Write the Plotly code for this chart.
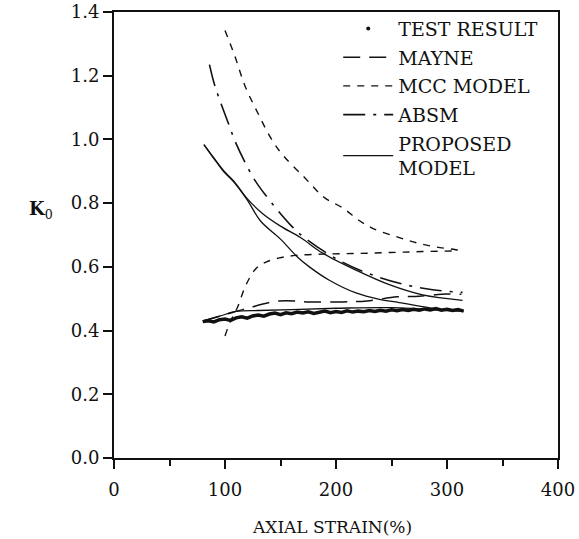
import plotly.graph_objects as go

# ---------------- data ----------------
test_x = list(range(80, 320, 5))
test_y = [0.428, 0.431, 0.427, 0.434, 0.436, 0.432, 0.440, 0.443, 0.439, 0.446,
          0.449, 0.445, 0.452, 0.455, 0.450, 0.456, 0.453, 0.458, 0.455, 0.459,
          0.454, 0.458, 0.461, 0.456, 0.460, 0.457, 0.462, 0.458, 0.461, 0.459,
          0.463, 0.460, 0.464, 0.461, 0.465, 0.462, 0.466, 0.463, 0.467, 0.464,
          0.468, 0.465, 0.469, 0.464, 0.467, 0.463, 0.466, 0.461]

test_unload_x = [81, 90, 99, 108, 120, 134, 150, 168, 188, 219, 248, 278, 314]
test_unload_y = [0.984, 0.942, 0.901, 0.869, 0.814, 0.767, 0.728, 0.692, 0.643,
                 0.588, 0.544, 0.512, 0.495]

mayne_x = [80, 100, 120, 149, 176, 206, 228, 255, 275, 300, 313]
mayne_y = [0.430, 0.450, 0.470, 0.493, 0.490, 0.490, 0.493, 0.506, 0.508, 0.515, 0.514]

mcc_x = [100, 105, 111, 119, 128, 137, 149, 164, 188, 219, 249, 278, 310,
         291, 273, 255, 233, 219, 207, 189, 171, 153, 142, 130, 118, 109, 100]
mcc_y = [0.383, 0.430, 0.471, 0.544, 0.595, 0.615, 0.628, 0.636, 0.640, 0.642,
         0.645, 0.648, 0.652, 0.662, 0.675, 0.694, 0.721, 0.750, 0.783, 0.819,
         0.883, 0.947, 1.000, 1.080, 1.168, 1.260, 1.342]

absm_x = [86, 91, 103, 110, 126, 137, 160, 174, 203, 230, 260, 287, 314]
absm_y = [1.235, 1.167, 1.051, 0.987, 0.877, 0.823, 0.728, 0.685, 0.620,
          0.578, 0.546, 0.528, 0.520]

prop_x = [80, 95, 110, 130, 160, 200, 250, 315,
          290, 257, 239, 218, 194, 176, 165, 150, 132, 120, 108, 99, 90, 81]
prop_y = [0.430, 0.445, 0.460, 0.463, 0.466, 0.470, 0.472, 0.460,
          0.469, 0.488, 0.498, 0.518, 0.558, 0.600, 0.632, 0.687, 0.744,
          0.810, 0.866, 0.898, 0.940, 0.984]

x_ticks = [0, 100, 200, 300, 400]
y_ticks = [0.0, 0.2, 0.4, 0.6, 0.8, 1.0, 1.2, 1.4]
y_tick_text = ["0.0", "0.2", "0.4", "0.6", "0.8", "1.0", "1.2", "1.4"]

FONT = "DejaVu Serif, serif"
INK = "#111111"

fig = go.Figure()

# legend-only marker for the test result (the legend shows a single dot)
fig.add_trace(go.Scatter(x=[None], y=[None], mode="markers", name="TEST RESULT",
                         legendgroup="test",
                         marker=dict(size=4, color=INK)))
fig.add_trace(go.Scatter(x=test_x, y=test_y, mode="lines", showlegend=False,
                         legendgroup="test", line=dict(color=INK, width=3.5)))
fig.add_trace(go.Scatter(x=test_unload_x, y=test_unload_y, mode="lines",
                         showlegend=False, legendgroup="test", line_shape="spline",
                         line=dict(color=INK, width=1.3)))
fig.add_trace(go.Scatter(x=mayne_x, y=mayne_y, mode="lines", name="MAYNE",
                         legendgroup="mayne", line_shape="spline",
                         line=dict(color=INK, width=1.5, dash="17px,9px")))
fig.add_trace(go.Scatter(x=mcc_x, y=mcc_y, mode="lines", name="MCC MODEL",
                         legendgroup="mcc", line_shape="spline",
                         line=dict(color=INK, width=1.4, dash="7px,7px")))
fig.add_trace(go.Scatter(x=absm_x, y=absm_y, mode="lines", name="ABSM",
                         legendgroup="absm", line_shape="spline",
                         line=dict(color=INK, width=1.6, dash="22px,8px,3px,8px")))
fig.add_trace(go.Scatter(x=prop_x, y=prop_y, mode="lines", name="PROPOSED<br>MODEL",
                         legendgroup="prop", line_shape="spline",
                         line=dict(color=INK, width=1.3)))

fig.update_layout(
    width=579, height=539,
    margin=dict(l=114, r=21, t=11, b=81),
    paper_bgcolor="white", plot_bgcolor="white",
    font=dict(family=FONT, size=18, color=INK),
    showlegend=True,
    legend=dict(x=0.505, y=1.003, xanchor="left", yanchor="top",
                bgcolor="rgba(0,0,0,0)", borderwidth=0,
                itemwidth=50, tracegroupgap=1,
                font=dict(family=FONT, size=19, color=INK)),
    xaxis=dict(range=[0, 400], tickmode="array", tickvals=x_ticks,
               ticks="outside", ticklen=9, tickwidth=1.5, tickcolor=INK,
               showline=True, linecolor=INK, linewidth=1.8, mirror=True,
               showgrid=False, zeroline=False, automargin=False,
               ticklabelstandoff=5,
               minor=dict(dtick=50, ticks="outside", ticklen=6, tickwidth=1.5,
                          tickcolor=INK, showgrid=False),
               tickfont=dict(family=FONT, size=18, color=INK)),
    yaxis=dict(range=[0, 1.4], tickmode="array", tickvals=y_ticks,
               ticktext=y_tick_text,
               ticks="outside", ticklen=9, tickwidth=1.5, tickcolor=INK,
               showline=True, linecolor=INK, linewidth=1.8, mirror=True,
               showgrid=False, zeroline=False, automargin=False,
               tickfont=dict(family=FONT, size=18, color=INK)),
    annotations=[
        dict(text="<b>K</b><sub>0</sub>", xref="paper", yref="paper",
             x=-0.165, y=0.555, xanchor="center", yanchor="middle",
             showarrow=False, font=dict(family=FONT, size=18, color=INK)),
        dict(text="AXIAL STRAIN(%)", xref="paper", yref="paper",
             x=0.49, y=-0.155, xanchor="center", yanchor="middle",
             showarrow=False, font=dict(family=FONT, size=17, color=INK)),
    ],
)

fig.write_html(
    "out.html",
    config={"displayModeBar": False},
    post_script="document.body.style.margin='0';document.body.style.overflow='hidden';",
)
